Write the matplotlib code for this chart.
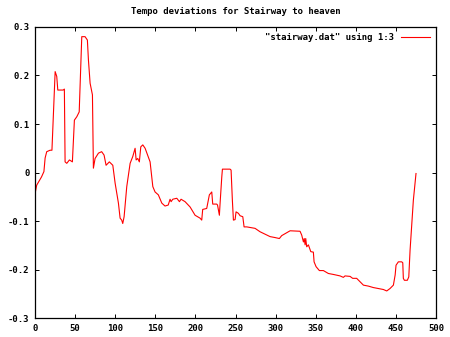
import matplotlib
matplotlib.use("Agg")
import matplotlib.pyplot as plt

# Values (column 1 vs column 3)
beat = [0, 2, 8, 11, 12.5, 14.5, 18.7, 21, 23, 25, 27, 28.3, 35, 36.5, 37.4,
        39.5, 42.8, 46.5, 49, 52, 55, 57.4, 58.2, 62.3, 65.2, 66.5, 68.6, 71.5,
        72.7, 74.8, 79, 83, 86, 88.5, 92.6, 96.9, 99.8, 103.9, 106, 108, 109.3,
        111, 114.3, 118.5, 121.8, 124.7, 126, 128, 130, 131.8, 134.3, 137.2,
        143.4, 146.8, 149.6, 153.7, 158, 162, 166, 168.3, 169.6, 171.7, 176.7,
        180, 182, 187, 193.3, 199.5, 205.7, 207.8, 209, 214, 217.3, 220.3,
        221.5, 226.5, 227.5, 229.8, 230.7, 232.8, 233.6, 239, 243.1, 244.4,
        246, 247.3, 249.4, 250.6, 253.5, 255.6, 259, 260.6, 264, 274.3, 280.5,
        286.8, 293, 299.3, 304.6, 307.5, 313.8, 318, 330.4, 332.5, 334.6, 335.6,
        336.7, 337.5, 338.7, 340.8, 343.8, 347, 347.9, 350.4, 354.5, 359.5,
        365.7, 372, 380.3, 384.4, 386.5, 392.8, 396, 401, 405.2, 409.4, 415.6,
        421.8, 428, 434.3, 438.5, 442.6, 446.8, 449, 450.1, 453, 457.2, 458.5,
        459.2, 460.5, 464.2, 466, 467.6, 469.7, 471.7, 475]
deviation = [-0.043, -0.026, -0.009, 0.002, 0.03, 0.043, 0.046, 0.046, 0.125,
             0.208, 0.198, 0.17, 0.17, 0.172, 0.022, 0.019, 0.026, 0.022,
             0.108, 0.115, 0.125, 0.242, 0.28, 0.28, 0.273, 0.232, 0.184, 0.16,
             0.009, 0.029, 0.04, 0.043, 0.036, 0.015, 0.022, 0.015, -0.022,
             -0.063, -0.094, -0.098, -0.105, -0.091, -0.029, 0.019, 0.033, 0.05,
             0.026, 0.029, 0.022, 0.053, 0.057, 0.05, 0.022, -0.029, -0.04,
             -0.046, -0.063, -0.069, -0.067, -0.055, -0.06, -0.055, -0.053,
             -0.06, -0.055, -0.06, -0.071, -0.088, -0.094, -0.098, -0.076,
             -0.074, -0.046, -0.04, -0.065, -0.065, -0.067, -0.088, -0.063,
             -0.009, 0.007, 0.007, 0.007, 0.005, -0.057, -0.098, -0.097, -0.081,
             -0.084, -0.089, -0.091, -0.112, -0.112, -0.115, -0.122, -0.127,
             -0.132, -0.134, -0.136, -0.13, -0.124, -0.12, -0.121, -0.129,
             -0.143, -0.136, -0.149, -0.136, -0.153, -0.149, -0.163, -0.164,
             -0.184, -0.194, -0.202, -0.202, -0.208, -0.21, -0.213, -0.216,
             -0.213, -0.214, -0.218, -0.218, -0.225, -0.232, -0.234, -0.237,
             -0.239, -0.241, -0.244, -0.239, -0.232, -0.211, -0.191, -0.184,
             -0.184, -0.186, -0.218, -0.222, -0.222, -0.215, -0.16, -0.108,
             -0.057, -0.002]

xticks = [0, 50, 100, 150, 200, 250, 300, 350, 400, 450, 500]
yticks = [-0.3, -0.2, -0.1, 0, 0.1, 0.2, 0.3]
ytick_labels = ['-0.3', '-0.2', '-0.1', '0', '0.1', '0.2', '0.3']

font = dict(family='DejaVu Sans Mono', fontsize=6.5, fontweight='bold')

fig = plt.figure(figsize=(4.5, 3.37), dpi=100)
ax = fig.add_axes([0.078, 0.056, 0.891, 0.864])

ax.plot(beat, deviation, color='#ff0000', linewidth=0.8,
        label='"stairway.dat" using 1:3')

ax.set_xlim(0, 500)
ax.set_ylim(-0.3, 0.3)
ax.set_xticks(xticks)
ax.set_xticklabels([str(t) for t in xticks], **font)
ax.set_yticks(yticks)
ax.set_yticklabels(ytick_labels, **font)
ax.tick_params(direction='in', length=3, width=0.7, top=True, right=True,
               pad=4)
for s in ax.spines.values():
    s.set_linewidth(0.9)

ax.set_title('Tempo deviations for Stairway to heaven', pad=9, **font)

leg = ax.legend(loc='upper right', frameon=False, markerfirst=False,
                handlelength=3.2, borderaxespad=0.3,
                prop=dict(family='DejaVu Sans Mono', size=6.5, weight='bold'))

fig.savefig('out.png', dpi=100)
